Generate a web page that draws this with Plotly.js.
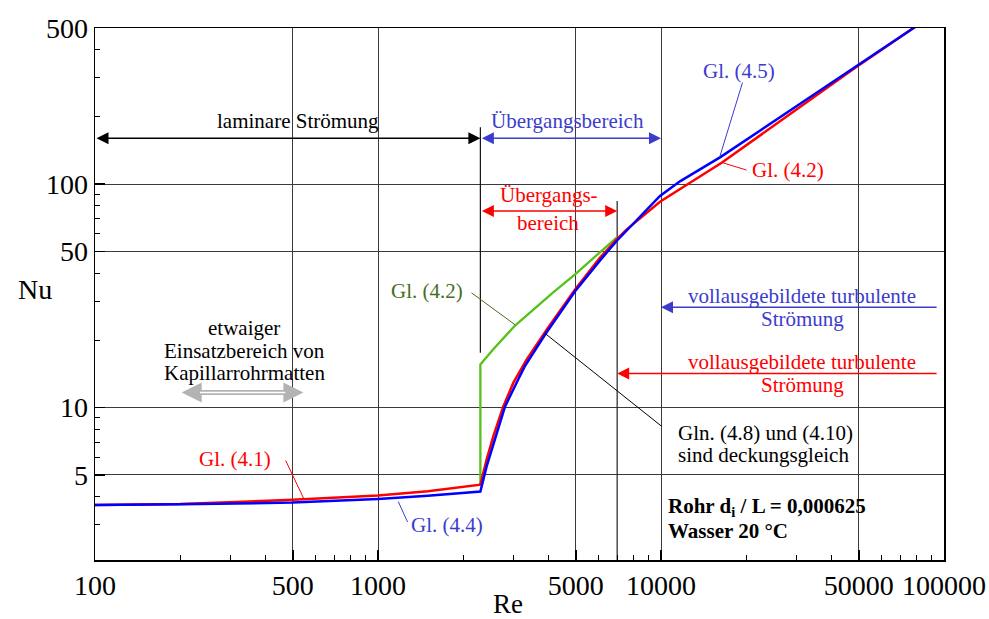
<!DOCTYPE html>
<html>
<head>
<meta charset="utf-8">
<script src="https://cdn.plot.ly/plotly-3.0.1.min.js"></script>
<style>html,body{margin:0;padding:0;background:#fff}#chart{width:989px;height:619px}</style>
</head>
<body>
<div id="chart"></div>
<script>
// ---------- data ----------
const reRed = [100, 200, 500, 1000, 1500, 2000, 2300, 2420, 2555, 2770, 3006, 3350, 3950, 4970, 6090, 6970, 7570, 9920, 11670, 16430, 49150, 79000];
const nuRed = [3.67, 3.70, 3.87, 4.04, 4.22, 4.40, 4.52, 5.85, 7.43, 10.1, 12.9, 16.4, 22.4, 33.8, 46.9, 56.6, 62.8, 83.5, 95, 125, 335.7, 505];

const reBlue = [100, 200, 500, 1000, 1500, 2000, 2300, 2420, 2591, 2810, 3132, 3300, 3890, 4970, 6090, 6970, 9920, 11670, 16160, 49150, 79000];
const nuBlue = [3.67, 3.69, 3.76, 3.90, 4.03, 4.13, 4.21, 5.46, 7.19, 10.1, 13.4, 15.3, 21.2, 33.2, 45.6, 55.7, 88.6, 103, 131.8, 339, 505];

const reGreen = [2300, 2300, 2550, 3050, 4150, 4970, 6970];
const nuGreen = [4.52, 15.6, 18.2, 23.3, 32.7, 39.5, 57.7];

const reLine2300 = [2300, 2300];
const nuLine2300 = [17.6, 180];
const reLine7000 = [7000, 7000];
const nuLine7000 = [2.08, 84];

const xTickVals = [100, 500, 1000, 5000, 10000, 50000, 100000];
const xTickText = ['100', '500', '1000', '5000', '10000', '50000', '100000'];
const yTickVals = [5, 10, 50, 100, 500];
const yTickText = ['5', '10', '50', '100', '500'];
const xMinorVals = [200, 300, 400, 600, 700, 800, 900, 2000, 3000, 4000, 6000, 7000, 8000, 9000, 20000, 30000, 40000, 60000, 70000, 80000, 90000];
const yMinorVals = [3, 4, 6, 7, 8, 9, 20, 30, 40, 60, 70, 80, 90, 200, 300, 400];

// ---------- styling ----------
const FONT = "'Liberation Serif', 'Times New Roman', serif";
const RED = '#ff0000', BLUE = '#0000ff', GREEN = '#55c21b';
const TBLUE = '#3c3ccc', TGREEN = '#466e1e', GRAY = '#b3b3b3';
const L = Math.log10;
const PL = 95, PW = 849, PB = 560, PH = 532;
const px = v => (v - PL) / PW;
const py = v => (PB - v) / PH;

const traces = [
  {x: reLine2300, y: nuLine2300, mode: 'lines', line: {color: '#111', width: 1.2}},
  {x: reLine7000, y: nuLine7000, mode: 'lines', line: {color: '#222', width: 1.2}},
  {x: reGreen, y: nuGreen, mode: 'lines', line: {color: GREEN, width: 2.3}},
  {x: reRed, y: nuRed, mode: 'lines', line: {color: RED, width: 2.5}},
  {x: reBlue, y: nuBlue, mode: 'lines', line: {color: BLUE, width: 2.5}}
];

const ann = [];
function txt(t, x, y, color, opts) {
  ann.push(Object.assign({text: t, xref: 'paper', yref: 'paper', x: px(x), y: py(y),
    showarrow: false, xanchor: 'center', yanchor: 'middle',
    font: {family: FONT, size: 21, color: color}}, opts || {}));
}
txt('laminare Strömung', 297.5, 121, 'black');
txt('Übergangsbereich', 567.5, 121, TBLUE);
txt('Übergangs-', 548.5, 195, RED);
txt('bereich', 547.5, 222.7, RED);
txt('etwaiger', 244, 328, 'black');
txt('Einsatzbereich von', 244, 351, 'black');
txt('Kapillarrohrmatten', 244, 373, 'black');
txt('vollausgebildete turbulente', 802, 295.5, TBLUE);
txt('Strömung', 802, 319.5, TBLUE);
txt('vollausgebildete turbulente', 802, 362, RED);
txt('Strömung', 802, 384.5, RED);
txt('Gl. (4.5)', 739, 71, TBLUE);
txt('Gl. (4.2)', 788, 170, RED);
txt('Gl. (4.2)', 427, 291, TGREEN);
txt('Gl. (4.1)', 235, 459, RED);
txt('Gl. (4.4)', 447, 525, TBLUE);
txt('Gln. (4.8) und (4.10)', 765, 432.5, 'black');
txt('sind deckungsgleich', 763, 455, 'black');
txt('<b>Rohr d<sub>i</sub> / L = 0,000625</b>', 666, 507, 'black', {xanchor: 'left'});
txt('<b>Wasser 20 °C</b>', 666, 531, 'black', {xanchor: 'left'});
txt('Nu', 35, 290, 'black', {font: {family: FONT, size: 28, color: 'black'}});
txt('Re', 508, 604, 'black', {font: {family: FONT, size: 27, color: 'black'}});

// range arrows (data units)
function arrow(reTip, reTail, nu, color, both, w, size) {
  ann.push({text: '', xref: 'x', yref: 'y', axref: 'x', ayref: 'y',
    x: L(reTip), y: L(nu), ax: L(reTail), ay: L(nu), showarrow: true,
    arrowside: both ? 'end+start' : 'end', arrowhead: 2, startarrowhead: 2,
    arrowsize: size || 1.6, startarrowsize: size || 1.6, arrowwidth: w || 1.5,
    arrowcolor: color, standoff: 0, startstandoff: 0});
}
arrow(2300, 100, 160.7, 'black', true);
arrow(10000, 2300, 160.7, TBLUE, true);
arrow(7000, 2300, 75.9, RED, true);
arrow(10000, 95300, 28.1, TBLUE, false);
arrow(7000, 95300, 14.2, RED, false);
arrow(545, 200, 11.7, GRAY, true, 5, 0.8);
ann.push({text: '', xref: 'x', yref: 'y', axref: 'x', ayref: 'y', x: L(470), y: L(11.7), ax: L(232), ay: L(11.7),
  showarrow: true, arrowhead: 0, arrowwidth: 1.5, arrowcolor: 'white', standoff: 0});

// leader lines from labels to curves
function leader(re, nu, dx, dy, color) {
  ann.push({text: '', xref: 'x', yref: 'y', x: L(re), y: L(nu), ax: dx, ay: dy,
    showarrow: true, arrowhead: 0, arrowwidth: 1, arrowcolor: color, standoff: 0, startstandoff: 0});
}
leader(16160, 133.6, 23, -75, TBLUE);
leader(16430, 125, 26, 8, RED);
leader(3048, 23.5, -45, -33, TGREEN);
leader(547.6, 3.896, -19, -40, RED);
leader(1179, 3.80, 10, 22, TBLUE);
leader(3890, 21.5, 118, 94, 'black');

// white patches where the reference grid is interrupted by text
function gap(x0, x1, y0, y1) {
  return {type: 'rect', xref: 'paper', yref: 'paper', x0: px(x0), x1: px(x1), y0: py(y1), y1: py(y0),
    fillcolor: 'white', line: {width: 0}, layer: 'between'};
}
const shapes = [
  gap(212, 384, 104, 137),
  gap(487, 666, 104, 136),
  gap(496, 601, 187, 236),
  gap(160, 330, 311, 385),
  gap(684, 920, 278, 397),
  gap(673, 862, 414, 470),
  gap(663, 866, 497, 512)
];

const axisCommon = {
  type: 'log', tickmode: 'array', ticks: 'inside', ticklen: 10, tickwidth: 1.5, tickcolor: 'black',
  showgrid: true, gridcolor: '#3a3a3a', gridwidth: 1, showline: true, linecolor: 'black', linewidth: 1.5,
  mirror: true, zeroline: false, fixedrange: true,
  tickfont: {family: FONT, size: 28, color: 'black'}
};

const layout = {
  width: 989, height: 619,
  margin: {l: PL, r: 989 - PL - PW, t: 28, b: 619 - PB, pad: 0},
  paper_bgcolor: 'white', plot_bgcolor: 'white', showlegend: false,
  font: {family: FONT, size: 21, color: 'black'},
  xaxis: Object.assign({}, axisCommon, {range: [2, 5], tickvals: xTickVals, ticktext: xTickText,
    minor: {tickmode: 'array', tickvals: xMinorVals, ticks: 'inside', ticklen: 5, tickwidth: 1, tickcolor: 'black', showgrid: false}}),
  yaxis: Object.assign({}, axisCommon, {range: [L(2.08), L(500)], tickvals: yTickVals, ticktext: yTickText,
    minor: {tickmode: 'array', tickvals: yMinorVals, ticks: 'inside', ticklen: 5, tickwidth: 1, tickcolor: 'black', showgrid: false}}),
  annotations: ann,
  shapes: shapes
};

Plotly.newPlot('chart', traces, layout, {staticPlot: true, displayModeBar: false});
</script>
</body>
</html>
